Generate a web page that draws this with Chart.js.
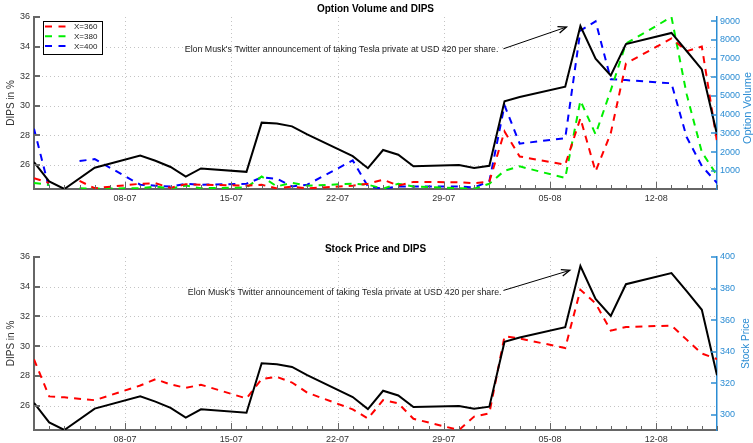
<!DOCTYPE html>
<html><head><meta charset="utf-8">
<script src="https://cdn.jsdelivr.net/npm/chart.js@4.4.1/dist/chart.umd.min.js"></script>
<style>
html,body{margin:0;padding:0;background:#fff}
#wrap{position:relative;width:753px;height:443px;overflow:hidden}
canvas{position:absolute;left:0}
</style>
</head><body>
<div id="wrap">
<canvas id="c1" width="753" height="220" style="top:0;width:753px;height:220px"></canvas>
<canvas id="c2" width="753" height="223" style="top:220px;width:753px;height:223px"></canvas>
</div>
<script>
// ---- data (day index 0 = 02-07-2018) ----
const tickDays   = [6, 13, 20, 27, 34, 41];
const tickLabels = ['08-07', '15-07', '22-07', '29-07', '05-08', '12-08'];
const dipsTicks  = [26, 28, 30, 32, 34, 36];
const volTicks   = [1000, 2000, 3000, 4000, 5000, 6000, 7000, 8000, 9000];
const priceTicks = [300, 320, 340, 360, 380, 400];

const tradeDays = [0,1,2,4, 7,8,9,10,11, 14,15,16,17,18, 21,22,23,24,25, 28,29,30,31,32, 35,36,37,38,39, 42,43,44,45];
const dips = [26.18,24.87,24.36,25.80, 26.63,26.27,25.85,25.20,25.75, 25.52,28.85,28.79,28.60,28.05,
              26.58,25.77,27.00,26.68,25.90, 25.98,25.79,25.93,30.30,30.58, 31.28,35.39,33.18,32.04,34.17,
              34.92,33.70,32.45,28.05];
const stockPrice = [335.1,311.6,311.0,309.2, 318.5,322.5,319.2,317.0,319.0, 310.3,322.6,324.0,320.4,314.0,
                    303.4,297.6,309.2,307.2,297.4, 290.3,298.8,300.9,349.7,348.3, 342.3,379.2,370.6,353.3,355.6,
                    356.5,347.6,338.8,335.3];

const optionDays = [0,1,2,3,4, 7,8,9,10,11, 14,15,16,17,18, 21,22,23,24,25, 28,29,30,31,32, 35,36,37,38,39, 42,43,44,45];
const volX360 = [600,350,null,450,60, 300,330,80,280,250, 200,250,50,150,50, 200,300,520,200,400,
                 380,330,420,3100,1760, 1320,3810,960,3010,6740, 8080,7400,7650,2550];
const volX380 = [344,250,null,60,40, 60,150,40,200,60, 100,690,160,344,200, 300,250,40,300,150,
                 60,40,300,1000,1230, 610,4750,2950,5300,7810, 9230,5100,2000,750];
const volX400 = [3250,50,null,1520,1620, 250,200,150,300,250, 300,640,570,160,250, 1550,160,40,160,160,
                 160,100,430,4500,2450, 2740,8500,9000,5900,5850, 5680,2800,1250,340];

const noteText = "Elon Musk's Twitter announcement of taking Tesla private at USD 420 per share.";

// ---- helpers ----
const FONT = "'Liberation Sans', Arial, Helvetica, sans-serif";
const BLUE = '#2b8cd3';
Chart.defaults.font.family = FONT;
const pts = (xs, ys) => xs.map((x, i) => ({x: x, y: ys[i]}));
const setTicks = vals => (s => { s.ticks = vals.map(v => ({value: v})); });
const plain = v => String(v);

function seg(ctx, x1, y1, x2, y2) { ctx.beginPath(); ctx.moveTo(x1, y1); ctx.lineTo(x2, y2); ctx.stroke(); }

const decor = {
  id: 'decor',
  beforeDatasetsDraw(chart, args, o) {
    const {ctx, chartArea: a, scales} = chart;
    ctx.save();
    ctx.strokeStyle = '#c4c4c4'; ctx.lineWidth = 1; ctx.setLineDash([1, 3]);
    scales.y.ticks.forEach(t => { const py = Math.round(scales.y.getPixelForValue(t.value)) + 0.5; if (py > a.top + 1) seg(ctx, a.left, py, a.right, py); });
    scales.x.ticks.forEach(t => { const px = Math.round(scales.x.getPixelForValue(t.value)) + 0.5; seg(ctx, px, a.top, px, a.bottom); });
    ctx.restore();
  },
  afterDatasetsDraw(chart, args, o) {
    const {ctx, chartArea: a, scales} = chart;
    const x = scales.x, y = scales.y, y2 = scales.y2;
    ctx.save();
    ctx.setLineDash([]);
    // bottom ticks, one per day, longer at labelled days
    ctx.strokeStyle = '#666'; ctx.lineWidth = 1;
    const major = x.ticks.map(t => t.value);
    for (let d = x.min; d <= x.max; d++) {
      const px = Math.round(x.getPixelForValue(d)) + 0.5;
      seg(ctx, px, a.bottom, px, a.bottom - (major.includes(d) ? 7 : 4));
    }
    // left ticks
    ctx.lineWidth = 2;
    y.ticks.forEach(t => { const py = Math.round(y.getPixelForValue(t.value)); seg(ctx, a.left, py, a.left + 6, py); });
    // right ticks
    ctx.strokeStyle = BLUE; ctx.lineWidth = 1.5;
    y2.ticks.forEach(t => { const py = Math.round(y2.getPixelForValue(t.value)); seg(ctx, a.right - 6, py, a.right, py); });

    // chart title
    ctx.fillStyle = '#000';
    ctx.font = 'bold 10px ' + FONT; ctx.textAlign = 'center'; ctx.textBaseline = 'middle';
    ctx.fillText(o.title, (a.left + a.right) / 2, a.top - 7.5);

    // right axis title (reads bottom to top)
    ctx.save();
    ctx.fillStyle = BLUE; ctx.font = o.rightSize + 'px ' + FONT;
    ctx.translate(o.rightX, (a.top + a.bottom) / 2 + o.rightDy);
    ctx.rotate(-Math.PI / 2);
    ctx.fillText(o.rightTitle, 0, 0);
    ctx.restore();

    // annotation text + arrow
    const n = o.note;
    ctx.fillStyle = '#222'; ctx.font = '8.8px ' + FONT; ctx.textAlign = 'right'; ctx.textBaseline = 'middle';
    ctx.fillText(noteText, x.getPixelForValue(n.textX), y.getPixelForValue(n.textY));
    const tx = x.getPixelForValue(n.fromX), ty = y.getPixelForValue(n.fromY);
    const hx = x.getPixelForValue(n.toX), hy = y.getPixelForValue(n.toY);
    ctx.strokeStyle = '#000'; ctx.lineWidth = 1;
    seg(ctx, tx, ty, hx, hy);
    const ang = Math.atan2(hy - ty, hx - tx), L = 9, W = 0.38;
    ctx.beginPath();
    ctx.moveTo(hx - L * Math.cos(ang - W), hy - L * Math.sin(ang - W));
    ctx.lineTo(hx, hy);
    ctx.lineTo(hx - L * Math.cos(ang + W), hy - L * Math.sin(ang + W));
    ctx.lineWidth = 1.3; ctx.stroke();

    // legend box
    if (o.legend) {
      const items = chart.data.datasets.filter(ds => o.legend.includes(ds.label));
      const bx = a.left + 8.5, by = a.top + 3.5, bw = 59, bh = 33;
      ctx.fillStyle = '#fff'; ctx.fillRect(bx, by, bw, bh);
      ctx.strokeStyle = '#000'; ctx.lineWidth = 1; ctx.strokeRect(Math.round(bx) + 0.5, Math.round(by) + 0.5, bw, bh);
      ctx.font = '8px ' + FONT; ctx.textAlign = 'left'; ctx.textBaseline = 'middle';
      items.forEach((ds, i) => {
        const ry = by + 6 + i * 9.8;
        ctx.strokeStyle = ds.borderColor; ctx.lineWidth = 2; ctx.setLineDash([7, 6.5]);
        seg(ctx, bx + 2.5, ry, bx + 24.5, ry);
        ctx.setLineDash([]);
        ctx.fillStyle = '#222'; ctx.fillText(ds.label, bx + 31.5, ry + 0.5);
      });
    }
    ctx.restore();
  }
};

function baseScales(xHeight, leftMin, rightMin, rightMax, rTicks) {
  return {
    x: {
      type: 'linear', position: 'bottom', min: 0, max: 45,
      grid: {display: false, drawTicks: false},
      border: {display: true, color: '#666', width: 2},
      afterBuildTicks: setTicks(tickDays),
      afterFit: s => { s.height = xHeight; },
      ticks: {autoSkip: false, maxRotation: 0, padding: 4, color: '#333', font: {size: 9},
              callback: v => tickLabels[tickDays.indexOf(v)] || ''}
    },
    y: {
      type: 'linear', position: 'left', min: leftMin, max: 36,
      grid: {display: false, drawTicks: false},
      border: {display: true, color: '#666', width: 2},
      afterBuildTicks: setTicks(dipsTicks),
      afterFit: s => { s.width = 34; },
      ticks: {padding: 4, color: '#333', font: {size: 9}, callback: plain},
      title: {display: true, text: 'DIPS in %', color: '#333', font: {size: 10}, padding: {top: 5, bottom: 0}}
    },
    y2: {
      type: 'linear', position: 'right', min: rightMin, max: rightMax,
      grid: {display: false, drawTicks: false},
      border: {display: true, color: BLUE, width: 1.5},
      afterBuildTicks: setTicks(rTicks),
      afterFit: s => { s.width = 36; },
      ticks: {padding: 3, color: BLUE, font: {size: 9}, callback: plain}
    }
  };
}

const lineCommon = {pointRadius: 0, pointHoverRadius: 0, tension: 0, fill: false, spanGaps: false};

new Chart(document.getElementById('c1'), {
  type: 'line',
  data: {datasets: [
    Object.assign({label: 'DIPS', data: pts(tradeDays, dips), borderColor: '#000', borderWidth: 2, yAxisID: 'y'}, lineCommon),
    Object.assign({label: 'X=360', data: pts(optionDays, volX360), borderColor: '#ff0000', borderWidth: 2, borderDash: [7, 6], yAxisID: 'y2'}, lineCommon),
    Object.assign({label: 'X=380', data: pts(optionDays, volX380), borderColor: '#00ee00', borderWidth: 2, borderDash: [7, 6], yAxisID: 'y2'}, lineCommon),
    Object.assign({label: 'X=400', data: pts(optionDays, volX400), borderColor: '#0000ff', borderWidth: 2, borderDash: [7, 6], yAxisID: 'y2'}, lineCommon)
  ]},
  options: {
    responsive: false, animation: false, devicePixelRatio: 1,
    layout: {padding: {top: 17, left: 0, right: 0, bottom: 0}},
    scales: baseScales(31, 24.36, 20, 9230, volTicks),
    plugins: {
      legend: {display: false}, tooltip: {enabled: false},
      decor: {title: 'Option Volume and DIPS', rightTitle: 'Option Volume', rightSize: 11, rightX: 748, rightDy: 5,
              legend: ['X=360', 'X=380', 'X=400'],
              note: {textX: 30.6, textY: 33.82, fromX: 30.93, fromY: 33.85, toX: 35.08, toY: 35.32}}
    }
  },
  plugins: [decor]
});

new Chart(document.getElementById('c2'), {
  type: 'line',
  data: {datasets: [
    Object.assign({label: 'DIPS', data: pts(tradeDays, dips), borderColor: '#000', borderWidth: 2, yAxisID: 'y'}, lineCommon),
    Object.assign({label: 'Stock Price', data: pts(tradeDays, stockPrice), borderColor: '#ff0000', borderWidth: 2, borderDash: [7, 6], yAxisID: 'y2'}, lineCommon)
  ]},
  options: {
    responsive: false, animation: false, devicePixelRatio: 1,
    layout: {padding: {top: 37, left: 0, right: 0, bottom: 0}},
    scales: baseScales(13, 24.36, 290.3, 400, priceTicks),
    plugins: {
      legend: {display: false}, tooltip: {enabled: false},
      decor: {title: 'Stock Price and DIPS', rightTitle: 'Stock Price', rightSize: 10, rightX: 746, rightDy: 0,
              legend: null,
              note: {textX: 30.8, textY: 33.64, fromX: 30.93, fromY: 33.75, toX: 35.3, toY: 35.1}}
    }
  },
  plugins: [decor]
});
</script>
</body></html>
